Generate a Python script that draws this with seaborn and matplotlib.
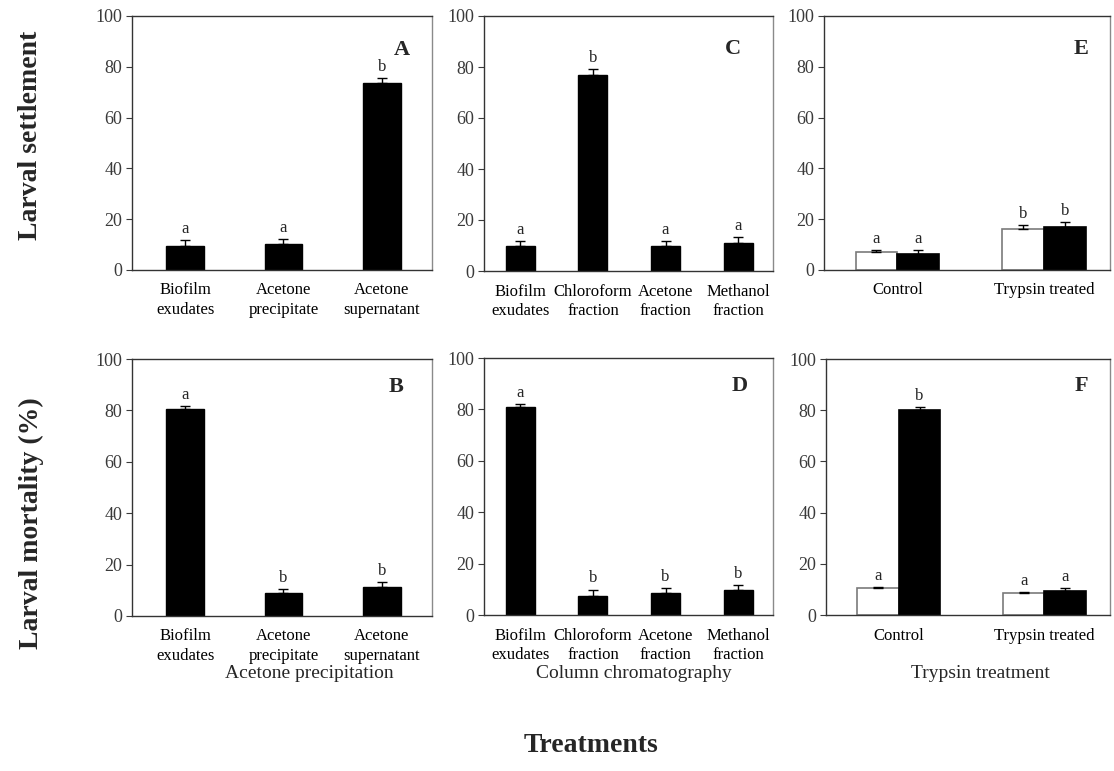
import matplotlib
matplotlib.use("Agg")
import matplotlib.pyplot as plt
import seaborn as sns
import pandas as pd
import numpy as np

sns.set_style("ticks")
plt.rcParams["font.family"] = ["Liberation Serif", "DejaVu Serif"]

# ---- data -------------------------------------------------------------
acetone_cats = ["Biofilm exudates", "Acetone precipitate", "Acetone supernatant"]
acetone_ticks = ["Biofilm\nexudates", "Acetone\nprecipitate", "Acetone\nsupernatant"]
settle_A = [9.5, 10.1, 73.6]
settle_A_err = [2.3, 2.2, 1.8]
settle_A_sig = ["a", "a", "b"]
mort_B = [80.6, 9.1, 11.3]
mort_B_err = [1.2, 1.4, 2.0]
mort_B_sig = ["a", "b", "b"]

column_cats = ["Biofilm exudates", "Chloroform fraction", "Acetone fraction", "Methanol fraction"]
column_ticks = ["Biofilm\nexudates", "Chloroform\nfraction", "Acetone\nfraction", "Methanol\nfraction"]
settle_C = [9.8, 77.0, 9.8, 11.1]
settle_C_err = [2.1, 2.2, 2.1, 2.3]
settle_C_sig = ["a", "b", "a", "a"]
mort_D = [80.8, 7.5, 8.4, 9.7]
mort_D_err = [1.4, 2.4, 2.0, 1.9]
mort_D_sig = ["a", "b", "b", "b"]

trypsin_cats = ["Control", "Trypsin treated"]
trypsin_series = ["open", "filled"]
settle_E_open = [7.0, 16.3]
settle_E_open_err = [0.9, 1.3]
settle_E_filled = [6.3, 17.1]
settle_E_filled_err = [1.6, 1.7]
settle_E_sig = ["a", "b", "a", "b"]   # open bars, then filled bars
mort_F_open = [10.4, 8.5]
mort_F_open_err = [0.4, 0.6]
mort_F_filled = [80.2, 9.4]
mort_F_filled_err = [1.0, 1.0]
mort_F_sig = ["a", "a", "b", "a"]

group_titles = ["Acetone precipitation", "Column chromatography", "Trypsin treatment"]

# ---- figure -------------------------------------------------------------
W, H = 1114, 771
fig = plt.figure(figsize=(W / 100, H / 100), dpi=100)


def px_axes(left, right, top, bottom):
    return fig.add_axes([left / W, 1 - bottom / H, (right - left) / W, (bottom - top) / H])


TICK_COLOR = "#3a3a3a"


def style_axes(ax, xlim, ticklabels, letter, lx, ly):
    ax.set_ylim(0, 100)
    ax.set_xlim(*xlim)
    ax.set_yticks(range(0, 101, 20))
    ax.tick_params(axis="y", direction="out", length=4, width=0.8,
                   colors=TICK_COLOR, labelsize=13, pad=3)
    ax.tick_params(axis="x", length=0, labelsize=12, pad=9, colors="black")
    ax.set_xticks(range(len(ticklabels)))
    ax.set_xticklabels(ticklabels, linespacing=1.3)
    ax.set_xlabel("")
    ax.set_ylabel("")
    for s in ["left", "bottom", "top"]:
        ax.spines[s].set_color("#333333")
        ax.spines[s].set_linewidth(1.0)
    ax.spines["right"].set_color("#8a8a8a")
    ax.spines["right"].set_linewidth(1.0)
    ax.text(lx, ly, letter, transform=ax.transAxes, ha="center", va="center",
            fontsize=16, fontweight="bold")


def add_errors_and_letters(ax, errs, letters):
    bars = [p for p in ax.patches if p.get_width() > 0 and p.get_height() > 0]
    bars = sorted(bars, key=lambda p: p.get_x())
    xs = np.array([p.get_x() + p.get_width() / 2 for p in bars])
    hs = np.array([p.get_height() for p in bars])
    errs = np.asarray(errs)
    ax.errorbar(xs, hs, yerr=[np.zeros_like(errs), errs], fmt="none",
                ecolor="black", elinewidth=1.0, capsize=3.5, capthick=1.0, zorder=3)
    for x, h, e, t in zip(xs, hs, errs, letters):
        ax.text(x, h + e + 1.2, t, ha="center", va="bottom", fontsize=12)


def simple_panel(ax, cats, vals, errs, sig, width):
    df = pd.DataFrame({"treatment": cats, "value": vals})
    sns.barplot(data=df, x="treatment", y="value", order=cats, color="black",
                width=width, errorbar=None, edgecolor="black", saturation=1, ax=ax)
    add_errors_and_letters(ax, errs, sig)


def paired_panel(ax, open_vals, open_errs, filled_vals, filled_errs, sig):
    df = pd.DataFrame({
        "treatment": trypsin_cats * 2,
        "series": [trypsin_series[0]] * 2 + [trypsin_series[1]] * 2,
        "value": open_vals + filled_vals,
    })
    sns.barplot(data=df, x="treatment", y="value", hue="series", order=trypsin_cats,
                hue_order=trypsin_series, palette=["white", "black"], width=0.57,
                errorbar=None, saturation=1, legend=False, ax=ax)
    for p, ec in zip(ax.patches, ["#7a7a7a"] * 2 + ["black"] * 2):
        p.set_edgecolor(ec)
        p.set_linewidth(1.2)
    # x-ordered: open control, filled control, open trypsin, filled trypsin
    errs_xorder = [open_errs[0], filled_errs[0], open_errs[1], filled_errs[1]]
    sig_xorder = [sig[0], sig[2], sig[1], sig[3]]
    add_errors_and_letters(ax, errs_xorder, sig_xorder)


# top row: settlement
axA = px_axes(132, 432, 16, 270)
simple_panel(axA, acetone_cats, settle_A, settle_A_err, settle_A_sig, 0.385)
style_axes(axA, (-0.54, 2.51), acetone_ticks, "A", 0.90, 0.865)

axC = px_axes(484, 773, 16, 271)
simple_panel(axC, column_cats, settle_C, settle_C_err, settle_C_sig, 0.40)
style_axes(axC, (-0.50, 3.48), column_ticks, "C", 0.86, 0.87)

axE = px_axes(824, 1110, 16, 270)
paired_panel(axE, settle_E_open, settle_E_open_err, settle_E_filled, settle_E_filled_err, settle_E_sig)
style_axes(axE, (-0.50, 1.45), trypsin_cats, "E", 0.90, 0.87)

# bottom row: mortality
axB = px_axes(132, 432, 359, 616)
simple_panel(axB, acetone_cats, mort_B, mort_B_err, mort_B_sig, 0.385)
style_axes(axB, (-0.54, 2.51), acetone_ticks, "B", 0.88, 0.89)

axD = px_axes(484, 773, 358, 615)
simple_panel(axD, column_cats, mort_D, mort_D_err, mort_D_sig, 0.40)
style_axes(axD, (-0.50, 3.48), column_ticks, "D", 0.886, 0.89)

axF = px_axes(826, 1110, 359, 615)
paired_panel(axF, mort_F_open, mort_F_open_err, mort_F_filled, mort_F_filled_err, mort_F_sig)
style_axes(axF, (-0.50, 1.45), trypsin_cats, "F", 0.90, 0.895)

# group titles and shared labels
for xc, t in zip([309, 634, 980], group_titles):
    fig.text(xc / W, 1 - 673 / H, t, ha="center", va="center", fontsize=14)

fig.text(591 / W, 1 - 745 / H, "Treatments", ha="center", va="center",
         fontsize=20, fontweight="bold")
fig.text(31 / W, 1 - 135 / H, "Larval settlement", ha="center", va="center",
         rotation=90, fontsize=20, fontweight="bold")
fig.text(31 / W, 1 - 523 / H, "Larval mortality (%)", ha="center", va="center",
         rotation=90, fontsize=20, fontweight="bold")

fig.savefig("out.png", dpi=100, facecolor="white")
